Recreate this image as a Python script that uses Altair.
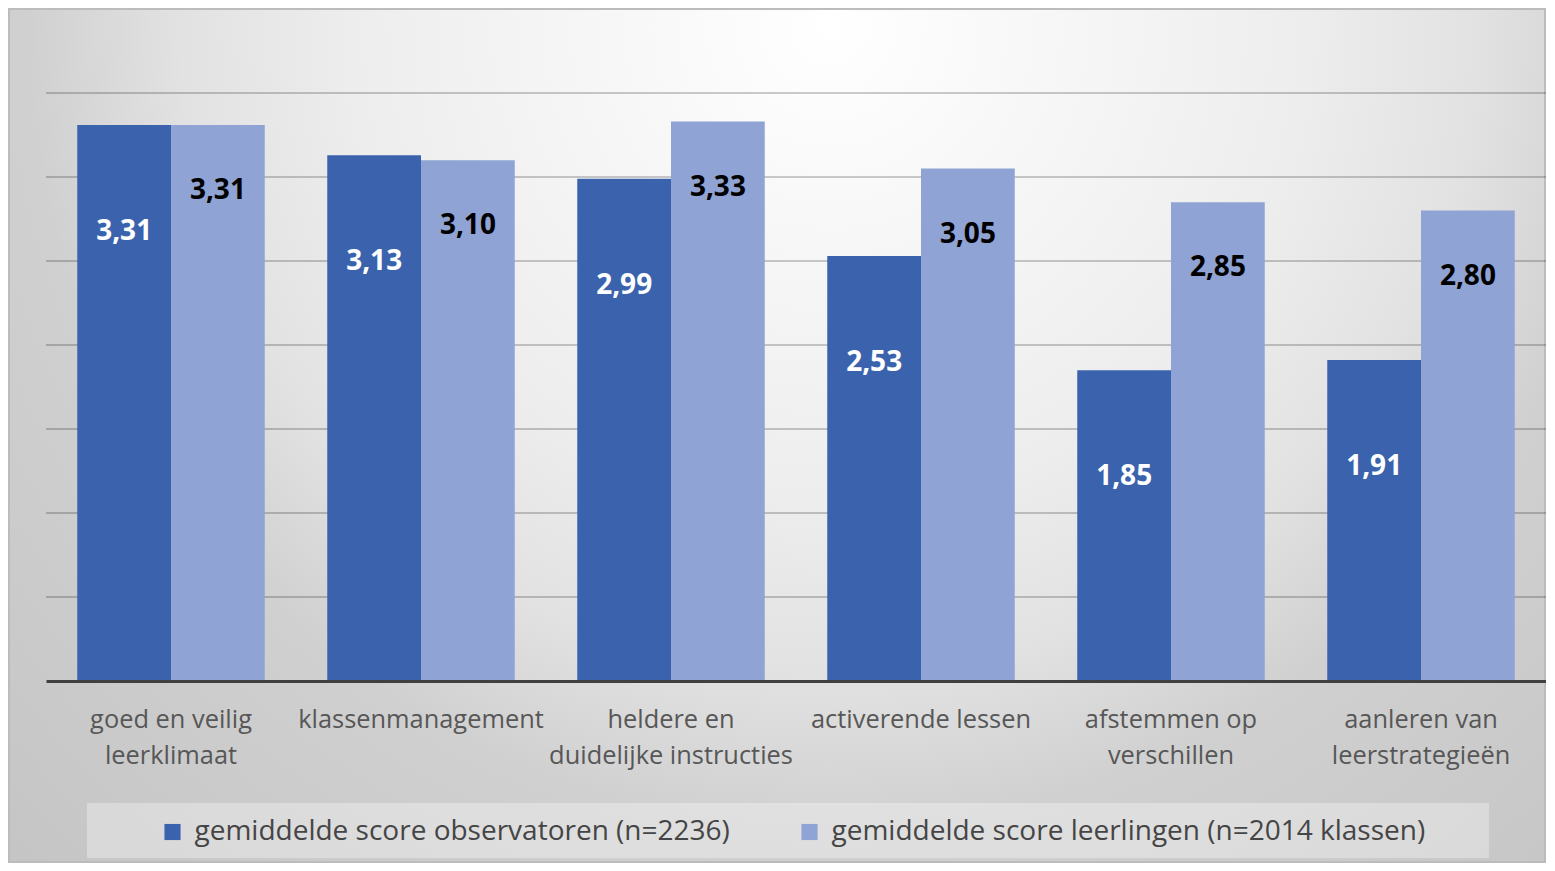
import altair as alt
import pandas as pd

categories = [
    "goed en veilig\nleerklimaat",
    "klassenmanagement",
    "heldere en\nduidelijke instructies",
    "activerende lessen",
    "afstemmen op\nverschillen",
    "aanleren van\nleerstrategieën",
]
observatoren = [3.31, 3.13, 2.99, 2.53, 1.85, 1.91]
leerlingen = [3.31, 3.10, 3.33, 3.05, 2.85, 2.80]
series_names = [
    "gemiddelde score observatoren (n=2236)",
    "gemiddelde score leerlingen (n=2014 klassen)",
]
series_colors = ["#3b63ad", "#8fa3d4"]
grid_values = [0.5, 1.0, 1.5, 2.0, 2.5, 3.0, 3.5]

rows = []
for c, o, l in zip(categories, observatoren, leerlingen):
    rows.append({"categorie": c, "reeks": series_names[0], "score": o})
    rows.append({"categorie": c, "reeks": series_names[1], "score": l})
df = pd.DataFrame(rows)

W, H = 1500, 588
FONT = "Open Sans"

x_enc = alt.X(
    "categorie:N",
    sort=categories,
    scale=alt.Scale(paddingInner=0.25, paddingOuter=0.125),
    axis=alt.Axis(
        title=None,
        ticks=False,
        domainColor="#404040",
        domainWidth=3,
        labelAngle=0,
        labelFont=FONT,
        labelFontSize=25.4,
        labelColor="#575757",
        labelPadding=26,
        labelLineHeight=36,
        labelExpr="split(datum.label, '\\n')",
        labelLimit=400,
        zindex=1,
    ),
)
xo_enc = alt.XOffset("reeks:N", sort=series_names, scale=alt.Scale(paddingInner=0, paddingOuter=0))
y_scale = alt.Scale(domain=[0, 3.5], nice=False, zero=True)

# square bounding box (extends below the visible area) so the radial gradient is circular
background = alt.Chart(alt.Data(values=[{}])).mark_rect(
    fill=alt.RadialGradient(
        gradient="radial",
        x1=0.534, y1=0.011, r1=0.0,
        x2=0.534, y2=0.011, r2=0.78,
        stops=[
            alt.GradientStop(offset=0.0, color="#ffffff"),
            alt.GradientStop(offset=0.25, color="#f4f4f4"),
            alt.GradientStop(offset=0.4, color="#ededed"),
            alt.GradientStop(offset=0.54, color="#e2e2e2"),
            alt.GradientStop(offset=0.67, color="#d0d0d0"),
            alt.GradientStop(offset=1.0, color="#c4c4c4"),
        ],
    ),
).encode(
    x=alt.value(-38), x2=alt.value(1500), y=alt.value(-85), y2=alt.value(1453)
)

frame = alt.Chart(alt.Data(values=[{}])).mark_rect(
    fill=None, stroke="#bcbcbc", strokeWidth=2
).encode(
    x=alt.value(-37), x2=alt.value(1499), y=alt.value(-84), y2=alt.value(769)
)

grid = alt.Chart(pd.DataFrame({"g": grid_values})).mark_rule(
    color="#000000", opacity=0.2, strokeWidth=2
).encode(
    y=alt.Y("g:Q", scale=y_scale, axis=None),
    x=alt.value(0),
    x2=alt.value(W),
)

legend_box = alt.Chart(alt.Data(values=[{}])).mark_rect(
    fill="#ffffff", opacity=0.32
).encode(
    x=alt.value(41), x2=alt.value(1443), y=alt.value(710), y2=alt.value(765)
)

base = alt.Chart(df)

bars = base.mark_bar().encode(
    x=x_enc,
    xOffset=xo_enc,
    y=alt.Y(
        "score:Q",
        scale=y_scale,
        axis=alt.Axis(title=None, labels=False, ticks=False, domain=False, grid=False),
    ),
    color=alt.Color(
        "reeks:N",
        sort=series_names,
        scale=alt.Scale(domain=series_names, range=series_colors),
        legend=alt.Legend(
            title=None,
            orient="none",
            legendX=112.5,
            legendY=725,
            direction="horizontal",
            symbolType="square",
            symbolSize=260,
            symbolStrokeWidth=0,
            symbolOpacity=1,
            labelFont=FONT,
            labelFontSize=28,
            labelColor="#454545",
            labelLimit=1000,
            labelOffset=8,
            columnPadding=65,
            padding=0,
            zindex=1,
        ),
    ),
)

label_fmt = "replace(format(datum.score, '.2f'), '.', ',')"

text_dark = base.transform_filter(
    alt.datum.reeks == series_names[0]
).transform_calculate(lbl=label_fmt).mark_text(
    font=FONT, fontSize=28, fontWeight="bold", color="#ffffff", baseline="middle", dy=107
).encode(x=x_enc, xOffset=xo_enc, y=alt.Y("score:Q", scale=y_scale), text="lbl:N")

text_light = base.transform_filter(
    alt.datum.reeks == series_names[1]
).transform_calculate(lbl=label_fmt).mark_text(
    font=FONT, fontSize=28, fontWeight="bold", color="#000000", baseline="middle", dy=66
).encode(x=x_enc, xOffset=xo_enc, y=alt.Y("score:Q", scale=y_scale), text="lbl:N")

chart = alt.layer(background, frame, grid, legend_box, bars, text_dark, text_light).properties(
    width=W,
    height=H,
    autosize=alt.AutoSizeParams(type="none"),
    padding={"left": 38, "top": 85, "right": 0, "bottom": 182},
).configure_view(stroke=None).configure(background="#ffffff")

chart.save("out.html", embed_options={"renderer": "svg", "actions": False})
